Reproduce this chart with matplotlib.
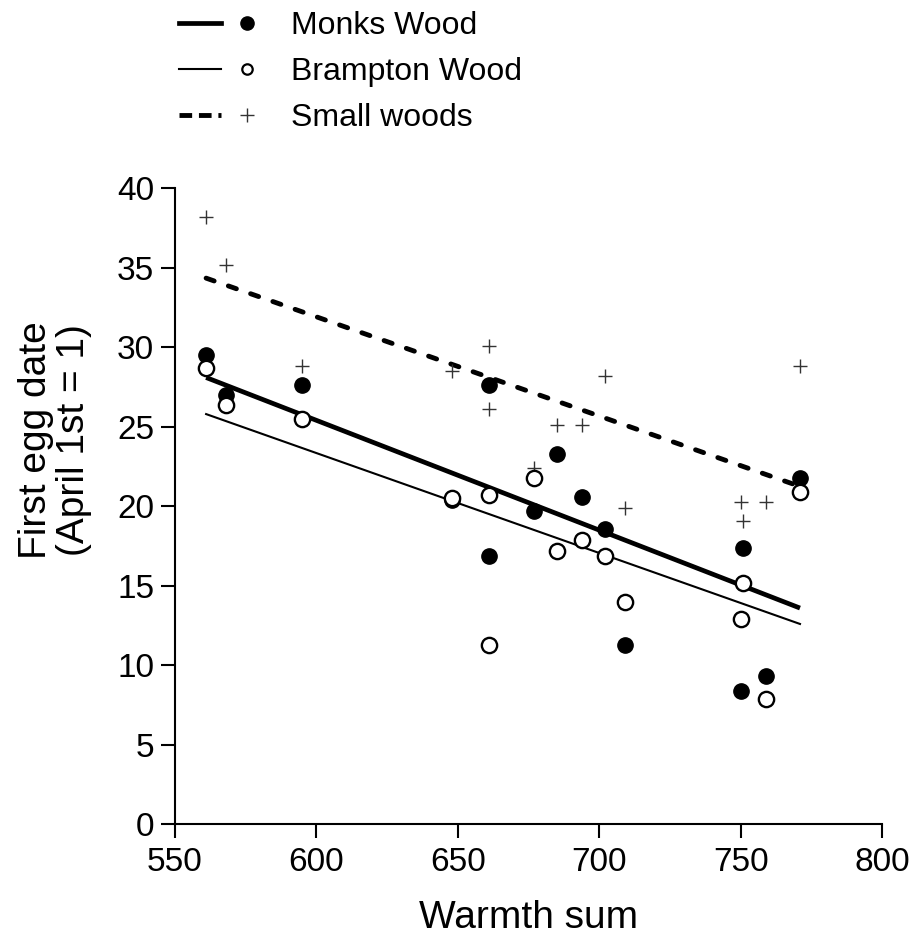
import numpy as np
import matplotlib
matplotlib.use("Agg")
from matplotlib import pyplot as plt
from matplotlib.lines import Line2D
from matplotlib.legend_handler import HandlerTuple

plt.rcParams['font.family'] = ['Liberation Sans', 'DejaVu Sans']

# warmth sum for each year
warmth = [561, 568, 595, 648, 661, 661, 677, 685, 694, 702, 709, 750, 751, 759, 771]
monks = [29.5, 27.0, 27.6, 20.4, 27.6, 16.9, 19.7, 23.3, 20.6, 18.6, 11.3, 8.4, 17.4, 9.3, 21.8]
brampton = [28.7, 26.4, 25.5, 20.5, 20.7, 11.3, 21.8, 17.2, 17.9, 16.9, 14.0, 12.9, 15.2, 7.9, 20.9]
small = [38.2, 35.2, 28.8, 28.5, 30.1, 26.1, 22.4, 25.1, 25.1, 28.2, 19.9, 20.3, 19.1, 20.3, 28.8]

# regression lines (ends)
fit_x = [561, 771]
monks_fit = [28.1, 13.6]
brampton_fit = [25.8, 12.6]
small_fit = [34.35, 21.25]

fig = plt.figure(figsize=(9.15, 9.44), dpi=100)
ax = fig.add_axes([175/915, 1-824.3/944, (882-175)/915, (824.3-188.3)/944])

ax.plot(fit_x, small_fit, color='black', lw=3.5, dashes=(1.75, 3.1), dash_capstyle='round')
ax.plot(fit_x, monks_fit, color='black', lw=3.4, solid_capstyle='butt')
ax.plot(fit_x, brampton_fit, color='black', lw=1.5)

ax.plot(warmth, small, ls='', marker='+', ms=10.5, mew=1.0, color='#333333', clip_on=False)
ax.plot(warmth, monks, ls='', marker='o', ms=11, color='black', clip_on=False)
ax.plot(warmth, brampton, ls='', marker='o', ms=11, mfc='white', mec='black', mew=1.7, clip_on=False)

ax.set_xlim(550, 800)
ax.set_ylim(0, 40)
ax.set_xticks(np.arange(550, 801, 50))
ax.set_yticks(np.arange(0, 41, 5))
for s in ['top', 'right']:
  ax.spines[s].set_visible(False)
for s in ['left', 'bottom']:
  ax.spines[s].set_linewidth(1.5)
ax.tick_params(axis='both', direction='out', length=10, width=1.5, labelsize=24)
ax.tick_params(axis='x', pad=6)
ax.tick_params(axis='y', pad=5)

ax.set_xlabel('Warmth sum', fontsize=28, labelpad=16)
fig.text(55/915, 1-440/944, 'First egg date\n(April 1st = 1)', rotation=90,
         ha='center', va='center', fontsize=28, linespacing=1.1, multialignment='center')

h_monks = (Line2D([], [], color='black', lw=3.4), Line2D([], [], ls='', marker='o', ms=9.5, color='black'))
h_bramp = (Line2D([], [], color='black', lw=1.5), Line2D([], [], ls='', marker='o', ms=7.5, mfc='white', mec='black', mew=1.6))
h_small = (Line2D([], [], color='black', lw=3.5, dashes=(2.6, 1.4)), Line2D([], [], ls='', marker='+', ms=10, mew=1.0, color='#333333'))

fig.legend([h_monks, h_bramp, h_small], ['Monks Wood', 'Brampton Wood', 'Small woods'],
           handler_map={tuple: HandlerTuple(ndivide=None, pad=0.15)},
           loc='upper left', bbox_to_anchor=(179/915, 1-11/944), frameon=False,
           fontsize=23, handlelength=2.8, handletextpad=0.72, labelspacing=0.5,
           borderpad=0, borderaxespad=0)

plt.savefig('out.png', dpi=100)
